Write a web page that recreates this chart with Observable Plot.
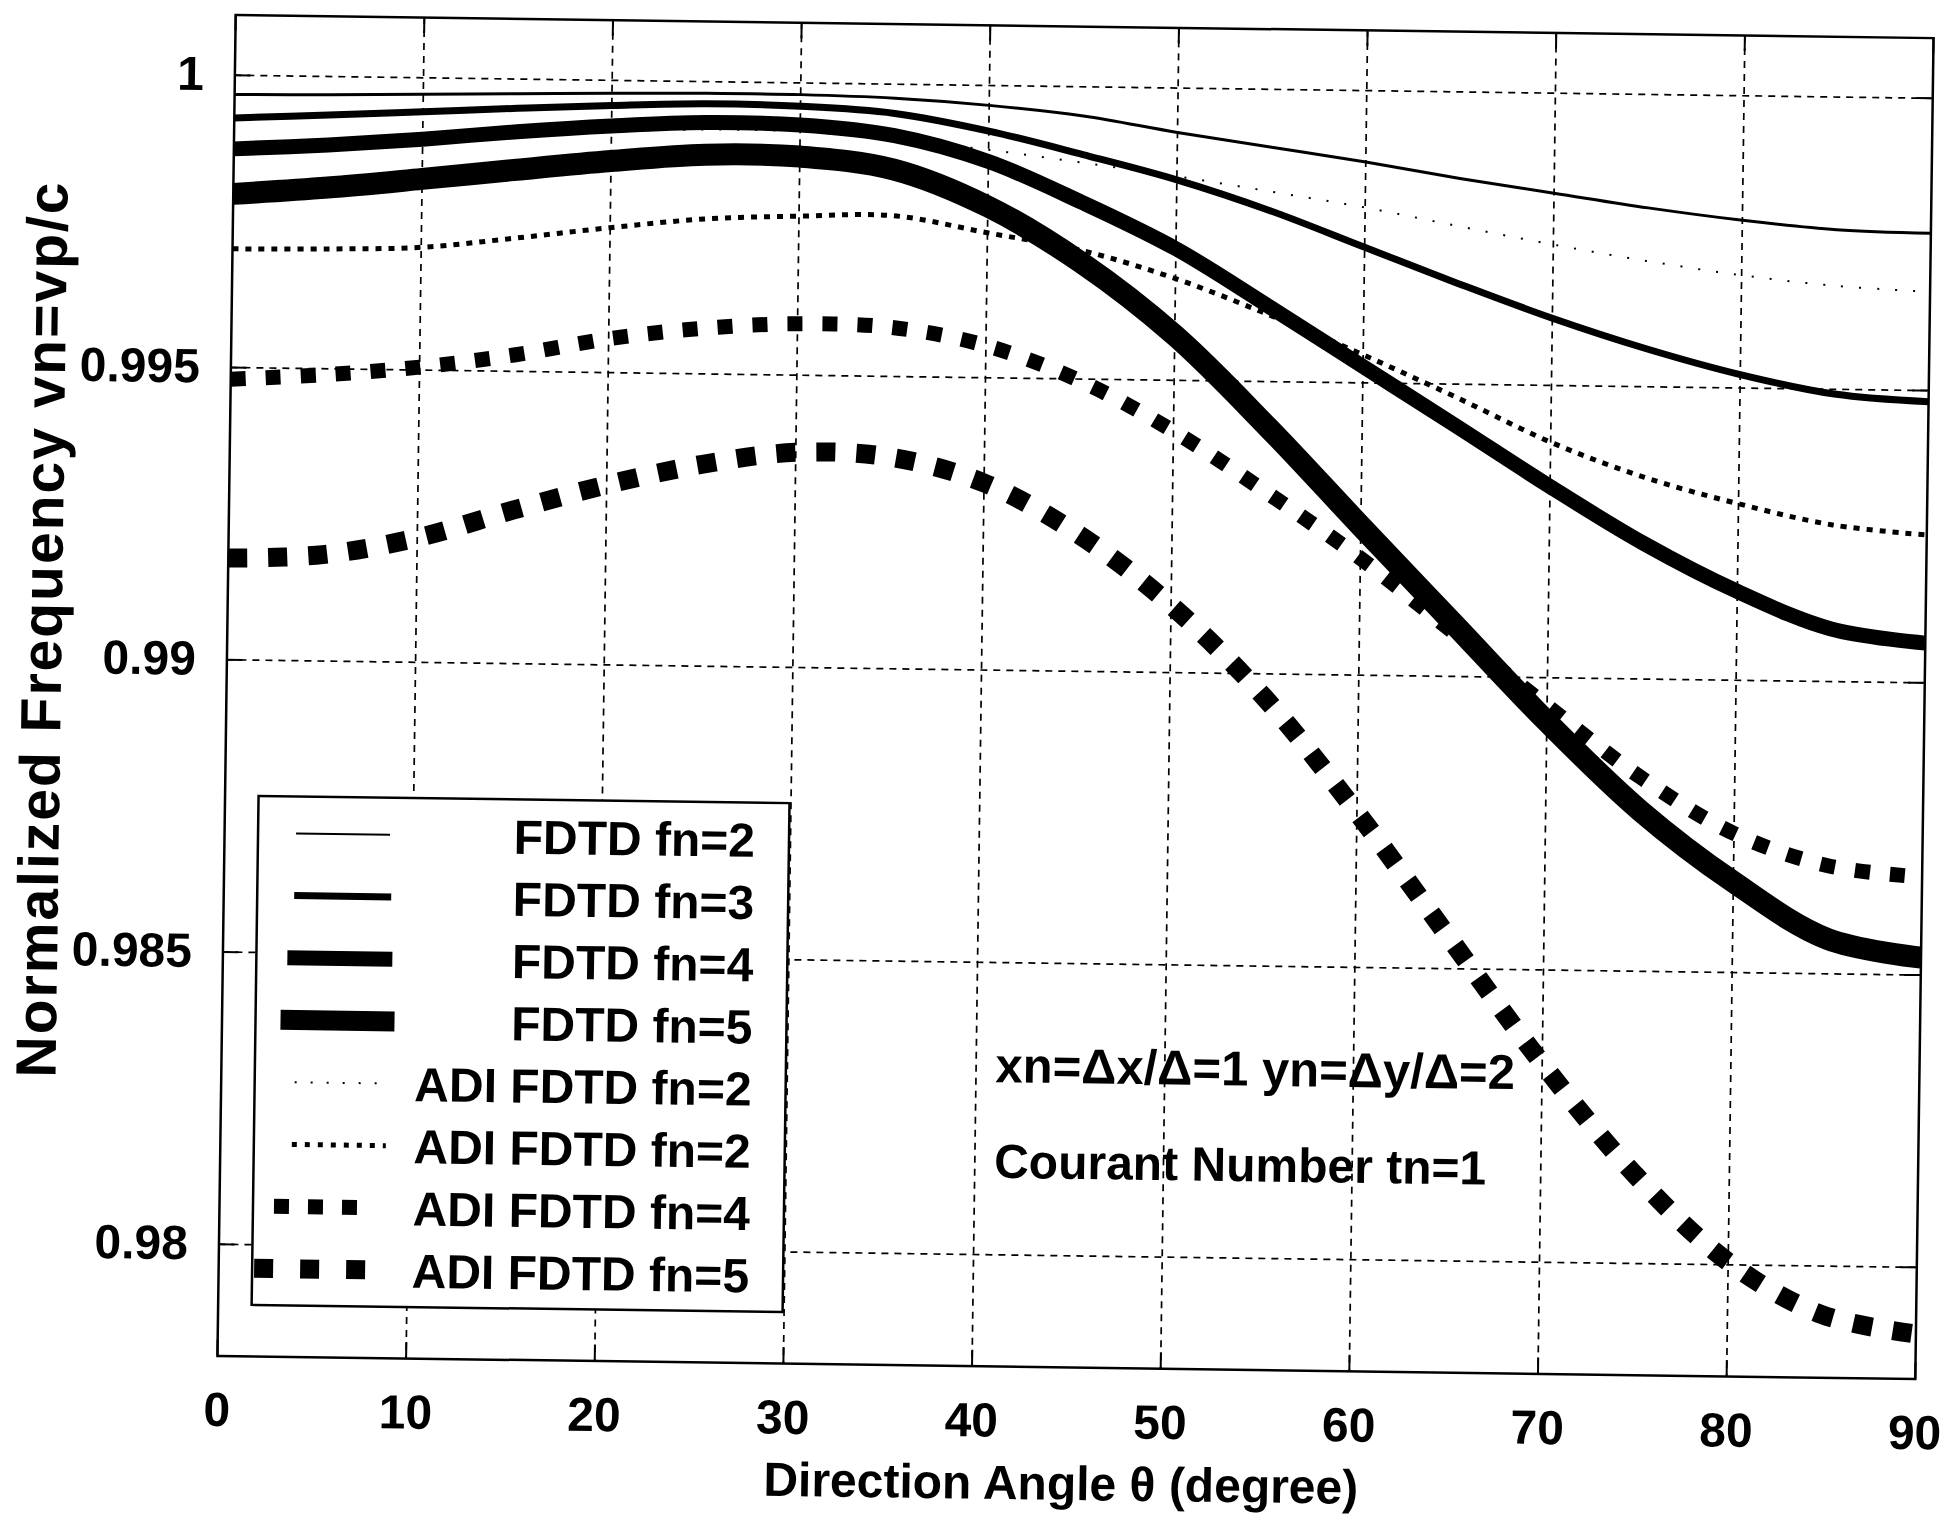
<!DOCTYPE html>
<html>
<head>
<meta charset="utf-8">
<script src="https://cdn.jsdelivr.net/npm/d3@7"></script>
<script src="https://cdn.jsdelivr.net/npm/@observablehq/plot@0.6"></script>
<style>
  html, body { margin: 0; padding: 0; background: #fff; }
  #wrap { position: relative; width: 1950px; height: 1518px; transform: rotate(0.78deg); transform-origin: 1074px 696px; }
  #wrap svg { display: block; }
</style>
</head>
<body>
<div id="wrap"></div>
<script>
// ---------------- data ----------------
const angles = [0, 5, 10, 15, 20, 25, 30, 35, 40, 45, 50, 55, 60, 65, 70, 75, 80, 85, 90];

const fdtdFn2 = [0.99967, 0.99969, 0.99972, 0.99975, 0.99978, 0.99980, 0.99980, 0.99976, 0.99966, 0.99950, 0.99924, 0.99901, 0.99878, 0.99852, 0.99829, 0.99806, 0.99787, 0.99773, 0.99769];
const fdtdFn3 = [0.99927, 0.99934, 0.99942, 0.99950, 0.99957, 0.99962, 0.99960, 0.99950, 0.99922, 0.99884, 0.99843, 0.99792, 0.99732, 0.99672, 0.99615, 0.99565, 0.99523, 0.99492, 0.99481];
const fdtdFn4 = [0.99874, 0.99883, 0.99895, 0.99910, 0.99922, 0.99930, 0.99928, 0.99912, 0.99870, 0.99802, 0.99725, 0.99628, 0.99528, 0.99428, 0.99327, 0.99232, 0.99152, 0.99090, 0.99068];
const fdtdFn5 = [0.99797, 0.99810, 0.99827, 0.99845, 0.99862, 0.99875, 0.99874, 0.99854, 0.99793, 0.99699, 0.99577, 0.99422, 0.99255, 0.99090, 0.98925, 0.98775, 0.98655, 0.98560, 0.98530];
const adiFn2a = [0.99870, 0.99880, 0.99890, 0.99903, 0.99913, 0.99918, 0.99917, 0.99905, 0.99890, 0.99870, 0.99849, 0.99825, 0.99800, 0.99770, 0.99741, 0.99715, 0.99693, 0.99677, 0.99669];
const adiFn2b = [0.99703, 0.99705, 0.99710, 0.99728, 0.99748, 0.99765, 0.99772, 0.99775, 0.99748, 0.99720, 0.99674, 0.99614, 0.99548, 0.99477, 0.99403, 0.99345, 0.99302, 0.99268, 0.99253];
const adiFn4 = [0.99480, 0.99490, 0.99505, 0.99528, 0.99558, 0.99578, 0.99588, 0.99584, 0.99555, 0.99497, 0.99413, 0.99310, 0.99200, 0.99075, 0.98952, 0.98832, 0.98738, 0.98685, 0.98668];
const adiFn5 = [0.99174, 0.99182, 0.99213, 0.99262, 0.99308, 0.99345, 0.99368, 0.99362, 0.99320, 0.99235, 0.99115, 0.98960, 0.98765, 0.98552, 0.98340, 0.98152, 0.98005, 0.97917, 0.97886];

const seriesNames = ["FDTD fn=2", "FDTD fn=3", "FDTD fn=4", "FDTD fn=5", "ADI FDTD fn=2", "ADI FDTD fn=2", "ADI FDTD fn=4", "ADI FDTD fn=5"];
const seriesValues = [fdtdFn2, fdtdFn3, fdtdFn4, fdtdFn5, adiFn2a, adiFn2b, adiFn4, adiFn5];

const xTicks = [0, 10, 20, 30, 40, 50, 60, 70, 80, 90];
const yTicks = [0.98, 0.985, 0.99, 0.995, 1];
const yTickLabels = ["0.98", "0.985", "0.99", "0.995", "1"];

const xTitle = "Direction Angle \u03b8 (degree)";
const yTitle = "Normalized Frequency vn=vp/c";
const noteLines = ["xn=\u0394x/\u0394=1 yn=\u0394y/\u0394=2", "Courant Number tn=1"];

// ---------------- styles ----------------
const lineStyles = [
  {w: 3, dash: null},
  {w: 7, dash: null},
  {w: 15, dash: null},
  {w: 22, dash: null},
  {w: 2, dash: "2 16"},
  {w: 5, dash: "6 7"},
  {w: 15, dash: "15 20"},
  {w: 19, dash: "19 21"}
];
const legendStyles = [
  {w: 2, dash: null, x1: 298, x2: 392},
  {w: 7, dash: null, x1: 297, x2: 394},
  {w: 15, dash: null, x1: 291, x2: 396},
  {w: 20, dash: null, x1: 285, x2: 399},
  {w: 2, dash: "2 14", x1: 300, x2: 392},
  {w: 5, dash: "5 8", x1: 298, x2: 392},
  {w: 15, dash: "15 19", x1: 281, x2: 364},
  {w: 19, dash: "19 27", x1: 262, x2: 374}
];

const FONT = "'Liberation Sans', Arial, Helvetica, sans-serif";
const M = {left: 226, right: 26, top: 26, bottom: 151};
const W = 1950, H = 1518;
const innerW = W - M.left - M.right, innerH = H - M.top - M.bottom;
const tickLen = 16;

const table = seriesValues.map((vals, s) => angles.map((a, i) => ({angle: a, value: vals[i], s})));

const lineMarks = table.map((rows, s) => Plot.line(rows, {
  x: "angle", y: "value",
  stroke: "black",
  strokeWidth: lineStyles[s].w,
  strokeDasharray: lineStyles[s].dash,
  strokeLinecap: "butt",
  strokeLinejoin: "round",
  curve: "catmull-rom"
}));

const gridStyle = {stroke: "black", strokeOpacity: 1, strokeWidth: 1.7, strokeDasharray: "7 6"};

const chart = Plot.plot({
  width: W, height: H,
  marginLeft: M.left, marginRight: M.right, marginTop: M.top, marginBottom: M.bottom,
  style: {fontFamily: FONT, fontSize: "48px", fontWeight: "bold", background: "white", color: "black", overflow: "visible"},
  x: {domain: [0, 90]},
  y: {domain: [0.97809, 1.00103]},
  marks: [
    Plot.gridX(xTicks.slice(1, -1), gridStyle),
    Plot.gridY(yTicks, gridStyle),
    // inward tick marks
    Plot.ruleX(xTicks, {stroke: "black", strokeWidth: 2, insetTop: innerH - tickLen}),
    Plot.ruleX(xTicks, {stroke: "black", strokeWidth: 2, insetBottom: innerH - tickLen}),
    Plot.ruleY(yTicks, {stroke: "black", strokeWidth: 2, insetRight: innerW - tickLen}),
    Plot.ruleY(yTicks, {stroke: "black", strokeWidth: 2, insetLeft: innerW - tickLen}),
    ...lineMarks,
    Plot.frame({stroke: "black", strokeWidth: 2.5}),
    Plot.axisX(xTicks, {tickSize: 0, tickPadding: 36, label: null, fontSize: 48}),
    Plot.axisY(yTicks, {tickSize: 0, tickPadding: 31, label: null, fontSize: 48, tickFormat: (d, i) => yTickLabels[i]}),
    Plot.text([xTitle], {frameAnchor: "bottom", textAnchor: "middle", dx: -4, dy: 117, fontSize: 48, fontWeight: "bold", lineAnchor: "middle", fill: "black"}),
    Plot.text([yTitle], {frameAnchor: "left", textAnchor: "middle", dx: -184, dy: -54, rotate: -90, fontSize: 57, fontWeight: "bold", lineAnchor: "middle", fill: "black", letterSpacing: "2px"}),
    Plot.text([noteLines[0]], {frameAnchor: "top-left", dx: 774, dy: 1041, textAnchor: "start", lineAnchor: "middle", fontSize: 49, fontWeight: "bold", fill: "black"}),
    Plot.text([noteLines[1]], {frameAnchor: "top-left", dx: 774, dy: 1137, textAnchor: "start", lineAnchor: "middle", fontSize: 48, fontWeight: "bold", fill: "black"})
  ]
});

// ---------------- legend ----------------
const svg = d3.select(chart);
const leg = svg.append("g").attr("class", "legend");
const box = {x: 260, y: 807, w: 531, h: 509};
leg.append("rect")
  .attr("x", box.x).attr("y", box.y).attr("width", box.w).attr("height", box.h)
  .attr("fill", "white").attr("stroke", "black").attr("stroke-width", 2.5);
const rowStart = 844, rowStep = 62.2, textRight = 757;
seriesNames.forEach((name, i) => {
  const cy = rowStart + i * rowStep;
  const st = legendStyles[i];
  leg.append("line")
    .attr("x1", st.x1).attr("x2", st.x2).attr("y1", cy).attr("y2", cy)
    .attr("stroke", "black").attr("stroke-width", st.w)
    .attr("stroke-dasharray", st.dash)
    .attr("stroke-linecap", "butt");
  leg.append("text")
    .attr("x", textRight).attr("y", cy).attr("dy", "0.36em")
    .attr("text-anchor", "end")
    .attr("font-family", FONT).attr("font-size", 48).attr("font-weight", "bold")
    .attr("fill", "black")
    .text(name);
});

// y title spacing (letter-spacing is not a Plot channel option)
svg.selectAll("text").filter(function() { return this.textContent === yTitle; })
  .attr("letter-spacing", "2px");

document.getElementById("wrap").appendChild(chart);
</script>
</body>
</html>
